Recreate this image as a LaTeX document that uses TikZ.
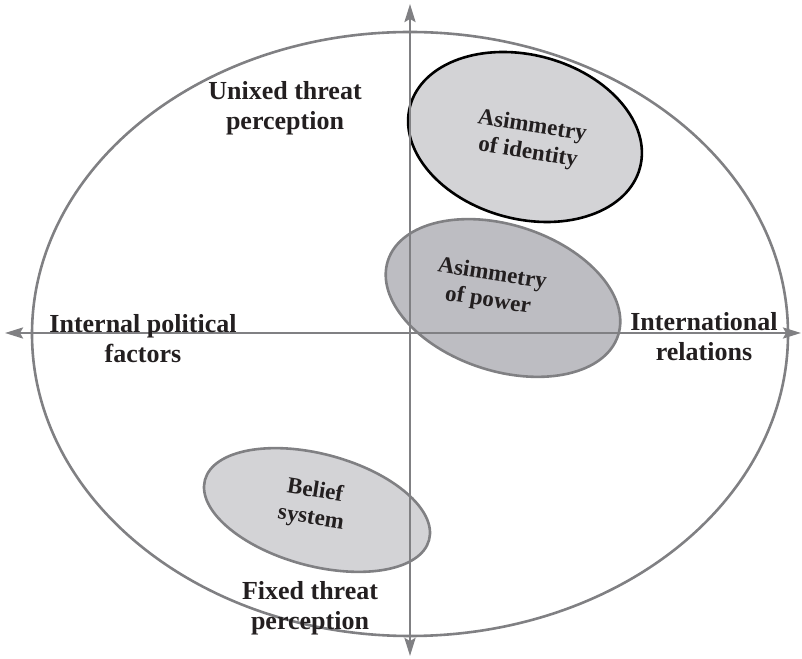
\documentclass[tikz,border=0pt]{standalone}
\usepackage{fontspec}
\setmainfont{Liberation Serif}
\usetikzlibrary{arrows.meta}

\definecolor{axisgray}{RGB}{128,128,131}
\definecolor{lightblob}{RGB}{211,211,214}
\definecolor{darkblob}{RGB}{189,189,194}
\definecolor{inkblack}{RGB}{35,31,32}

\begin{document}
\begin{tikzpicture}[x=1pt,y=1pt,
  axisline/.style={line width=2.6pt, draw=axisgray, {Stealth[length=18pt,width=11pt,inset=3pt]}-{Stealth[length=18pt,width=11pt,inset=3pt]}},
  sidetext/.style={font=\fontsize{26}{30}\selectfont\bfseries, align=center, text=inkblack},
  blobtext/.style={font=\fontsize{23}{27}\selectfont\bfseries, align=center, text=inkblack, rotate=-9}]
  \useasboundingbox (0,0) rectangle (802,658);

  % Factor ellipses
  \filldraw[fill=lightblob, draw=black, line width=2.6pt, rotate around={-15:(525,521)}] (525,521) ellipse (119pt and 82pt);
  \filldraw[fill=darkblob, draw=axisgray, line width=2.6pt, rotate around={-18:(503,360)}] (503,360) ellipse (121pt and 73pt);
  \filldraw[fill=lightblob, draw=axisgray, line width=2.6pt, rotate around={-15:(317,148)}] (317,148) ellipse (116pt and 56pt);

  % Outer ellipse
  \draw[axisgray, line width=2.6pt] (410,324) ellipse (378pt and 302pt);

  % Axes
  \coordinate (top) at (410,654);
  \coordinate (bottom) at (410,2);
  \coordinate (left) at (5,325);
  \coordinate (right) at (801,325);
  \draw[axisline] (bottom) -- (top);
  \draw[axisline] (left) -- (right);

  % Labels
  \node[sidetext] (unfixed) at (285,550) {Unixed threat\\perception};
  \node[sidetext] (fixed) at (310,50) {Fixed threat\\perception};
  \node[sidetext] (internal) at (143,319) {Internal political\\factors};
  \node[sidetext] (international) at (704,321) {International\\relations};
  \node[blobtext] (identity) at (530,518) {Asimmetry\\of identity};
  \node[blobtext] (power) at (490,370) {Asimmetry\\of power};
  \node[blobtext] (belief) at (313,153) {Belief\\system};

\end{tikzpicture}
\end{document}
